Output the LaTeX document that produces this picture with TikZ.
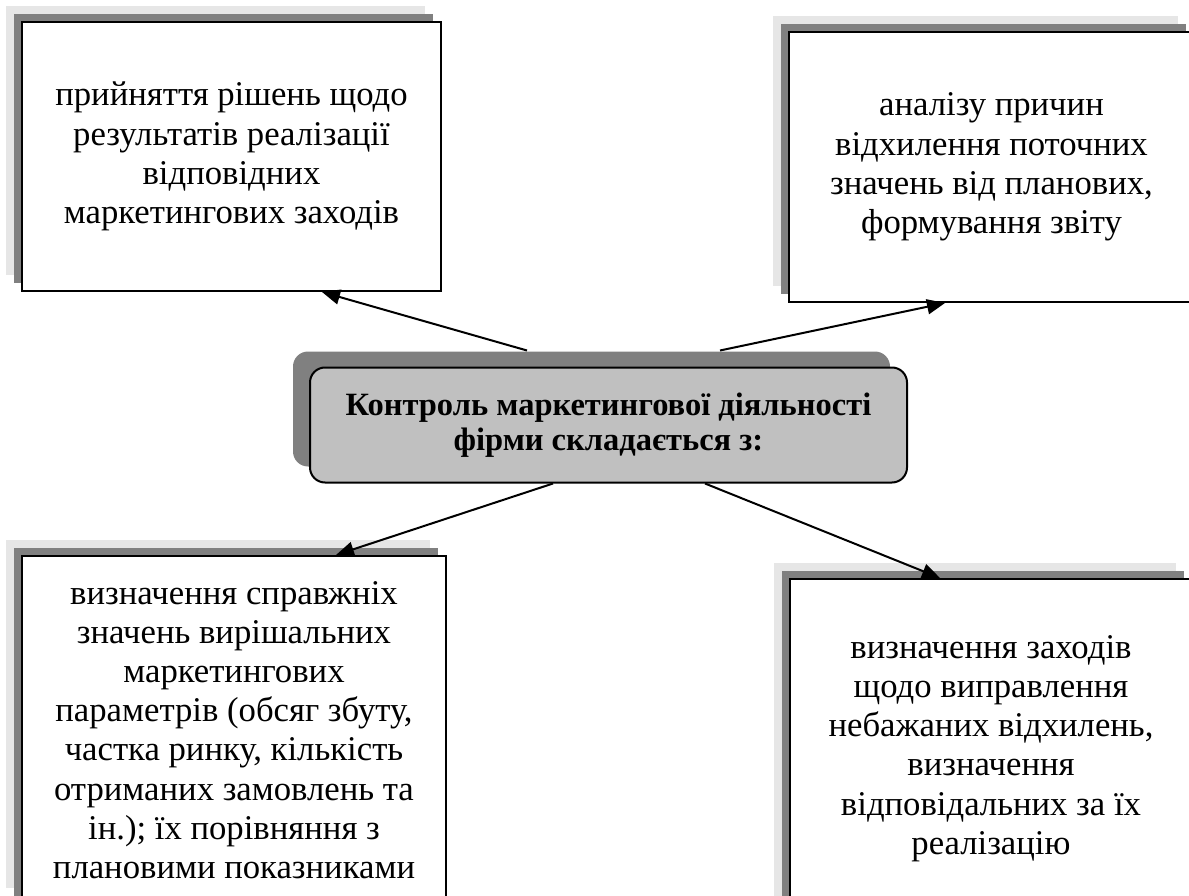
\documentclass[tikz,border=0pt]{standalone}
\usepackage{fontspec}
\setmainfont{Liberation Serif}
\usetikzlibrary{shadows,arrows.meta}
\definecolor{darksh}{HTML}{808080}
\definecolor{lightsh}{HTML}{E6E6E6}
\definecolor{ctrlfill}{HTML}{C0C0C0}
\tikzset{
    txtbox/.style={draw=black, line width=2pt, fill=white, align=center,
        font=\fontsize{34.7}{39.2}\selectfont,
        general shadow={fill=lightsh, shadow xshift=-16pt, shadow yshift=16pt},
        general shadow={fill=darksh, shadow xshift=-8pt, shadow yshift=8pt}},
    ctrlbox/.style={draw=black, line width=2pt, fill=ctrlfill, rounded corners=15pt,
        align=center, font=\fontsize{32.5}{35}\selectfont\bfseries,
        minimum width=597pt, minimum height=115pt,
        general shadow={fill=darksh, shadow xshift=-17pt, shadow yshift=16pt}},
    arr/.style={-{Triangle[length=18pt,width=15pt]}, line width=2pt}
}
\begin{document}
\begin{tikzpicture}[x=1pt,y=-1pt]
    \useasboundingbox (0,0) rectangle (1189,896);
    \clip (0,0) rectangle (1189,896);

    \node[txtbox, minimum width=419pt, minimum height=269pt] (tl) at (231.5,156.5)
        {прийняття рішень щодо\\результатів реалізації\\відповідних\\маркетингових заходів};
    \node[txtbox, minimum width=405pt, minimum height=270pt] (tr) at (991.5,167)
        {аналізу причин\\відхилення поточних\\значень від планових,\\формування звіту};
    \node[txtbox, minimum width=424pt, minimum height=348pt] (bl) at (234,730)
        {визначення справжніх\\значень вирішальних\\маркетингових\\параметрів (обсяг збуту,\\частка ринку, кількість\\отриманих замовлень та\\ін.); їх порівняння з\\плановими показниками};
    \node[txtbox, minimum width=402pt, minimum height=339pt] (br) at (991,748.5)
        {визначення заходів\\щодо виправлення\\небажаних відхилень,\\визначення\\відповідальних за їх\\реалізацію};

    \node[ctrlbox] (ctrl) at (608.5,425)
        {Контроль маркетингової діяльності\\фірми складається з:};

    \coordinate (c1) at ([xshift=-81.5pt,yshift=16pt]ctrl.north);
    \coordinate (c2) at ([xshift=111.5pt,yshift=16pt]ctrl.north);
    \coordinate (c3) at ([xshift=-55.5pt]ctrl.south);
    \coordinate (c4) at ([xshift=96.5pt]ctrl.south);

    \draw[arr] (c1) -- ([xshift=90.5pt]tl.south);
    \draw[arr] (c2) -- ([xshift=-46.5pt]tr.south);
    \draw[arr] (c3) -- ([xshift=102pt]bl.north);
    \draw[arr] (c4) -- ([xshift=-51pt]br.north);
\end{tikzpicture}
\end{document}
